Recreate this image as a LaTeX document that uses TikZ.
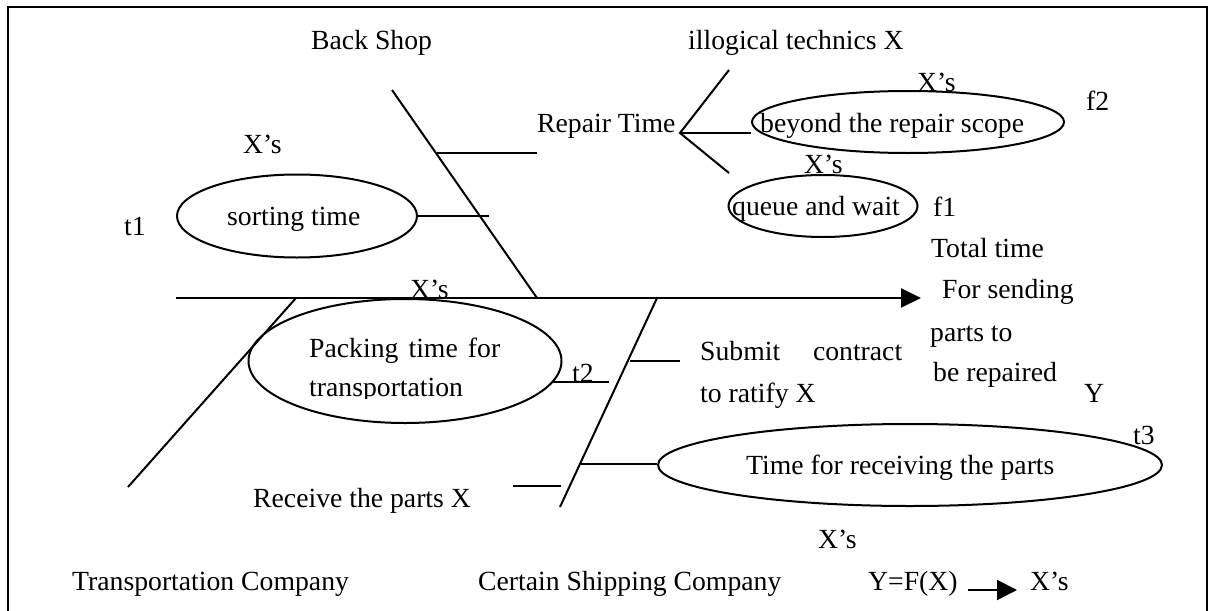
\documentclass[tikz,border=0pt]{standalone}
\usepackage{fontspec}
\setmainfont{Liberation Serif}
\usetikzlibrary{shapes.geometric,arrows.meta}
\tikzset{
  bone/.style={line width=2pt},
  oval/.style={draw,ellipse,line width=2pt,inner sep=0pt},
  lbl/.style={anchor=base west,inner sep=0pt,font=\fontsize{27.7}{33}\selectfont},
  tip/.style={-{Triangle[length=20pt,width=19pt]}}
}
\begin{document}
\begin{tikzpicture}[x=1pt,y=-1pt]
\useasboundingbox (0,0) rectangle (1209,610);
% frame (open at the bottom)
\draw[line width=2.4pt] (8,640) -- (8,7) -- (1207,7) -- (1207,640);

% coordinates of the bones
\coordinate (spineL) at (176,298);
\coordinate (spineR) at (921,298);
\coordinate (bsTop) at (392,90);
\coordinate (bsBot) at (537,298);
\coordinate (trTop) at (296,298);
\coordinate (trBot) at (128,487);
\coordinate (shTop) at (657,298);
\coordinate (shBot) at (560,507);

% ovals
\node[oval,minimum width=240pt,minimum height=83pt] (sort) at (297,216) {};
\node[oval,minimum width=312pt,minimum height=62pt] (beyond) at (908,122) {};
\node[oval,minimum width=189pt,minimum height=62pt] (queue) at (823,206) {};
\node[oval,minimum width=313pt,minimum height=124pt] (pack) at (405,361) {};
\node[oval,minimum width=504pt,minimum height=82pt] (recv) at (910,465) {};

% spine and bones
\draw[bone,tip] (spineL) -- (spineR);
\draw[bone] (bsTop) -- (bsBot);
\draw[bone] (trTop) -- (trBot);
\draw[bone] (shTop) -- (shBot);

% branches
\coordinate (rtA) at (437,153);
\coordinate (rtB) at (537,153);
\draw[bone] (rtA) -- (rtB);
\coordinate (sortEnd) at (489,216);
\draw[bone] (sort.east) -- (sortEnd);
\coordinate (fork) at (680,133);
\coordinate (forkUp) at (729,70);
\coordinate (forkDn) at (729,173);
\draw[bone] (forkUp) -- (fork) -- (forkDn);
\draw[bone] (fork) -- (fork -| beyond.west);
\coordinate (t2A) at (553,382);
\coordinate (t2B) at (609,382);
\draw[bone] (t2A) -- (t2B);
\coordinate (subA) at (630,361);
\coordinate (subB) at (680,361);
\draw[bone] (subA) -- (subB);
\coordinate (recA) at (581,464);
\draw[bone] (recA) -- (recA -| recv.west);
\coordinate (rpA) at (513,486);
\coordinate (rpB) at (561,486);
\draw[bone] (rpA) -- (rpB);

% bottom legend arrow
\coordinate (legA) at (968,590);
\coordinate (legB) at (1017,590);
\draw[bone,-{Triangle[length=20pt,width=20pt]}] (legA) -- (legB);

% labels
\node[lbl] (backshop) at (311,49) {Back Shop};
\node[lbl] (xs1) at (243,153) {X’s};
\node[lbl] (t1) at (124,235) {t1};
\node[lbl] (sorttxt) at (227,225) {sorting time};
\node[lbl] (xs2) at (410,298) {X’s};
\node[lbl] (repair) at (537,132) {Repair Time};
\node[lbl] (illog) at (688,49) {illogical technics X};
\node[lbl] (xs3) at (917,91) {X’s};
\node[lbl] (beyondtxt) at (760,132) {beyond the repair scope};
\node[lbl] (f2) at (1086,110) {f2};
\node[lbl] (xs4) at (804,173) {X’s};
\node[lbl] (queuetxt) at (732,215) {queue and wait};
\node[lbl] (f1) at (933,216) {f1};
\node[lbl] (total) at (931,257) {Total time};
\node[lbl] (forsend) at (942,298) {For sending};
\node[lbl] (partsto) at (930,341) {parts to};
\node[lbl] (berep) at (933,381) {be repaired};
\node[lbl] (Y) at (1084,402) {Y};
\node[lbl] (pack1) at (309,357) {\makebox[191pt][s]{Packing time for}};
\begin{scope}
\clip (300,365) rectangle (480,398);
\node[lbl] (pack2) at (309,396) {transportation};
\end{scope}
\node[lbl] (t2) at (572,382) {t2};
\node[lbl] (submit1) at (700,360) {\makebox[202pt][s]{Submit contract}};
\node[lbl] (submit2) at (700,402) {to ratify X};
\node[lbl] (t3) at (1133,444) {t3};
\node[lbl] (recvtxt) at (746,474) {Time for receiving the parts};
\node[lbl] (rparts) at (253,507) {Receive the parts X};
\node[lbl] (xs5) at (818,548) {X’s};
\node[lbl] (transco) at (72,590) {Transportation Company};
\node[lbl] (shipco) at (478,590) {Certain Shipping Company};
\node[lbl] (yfx) at (868,590) {Y=F(X)};
\node[lbl] (xs6) at (1030,590) {X’s};
\end{tikzpicture}
\end{document}
